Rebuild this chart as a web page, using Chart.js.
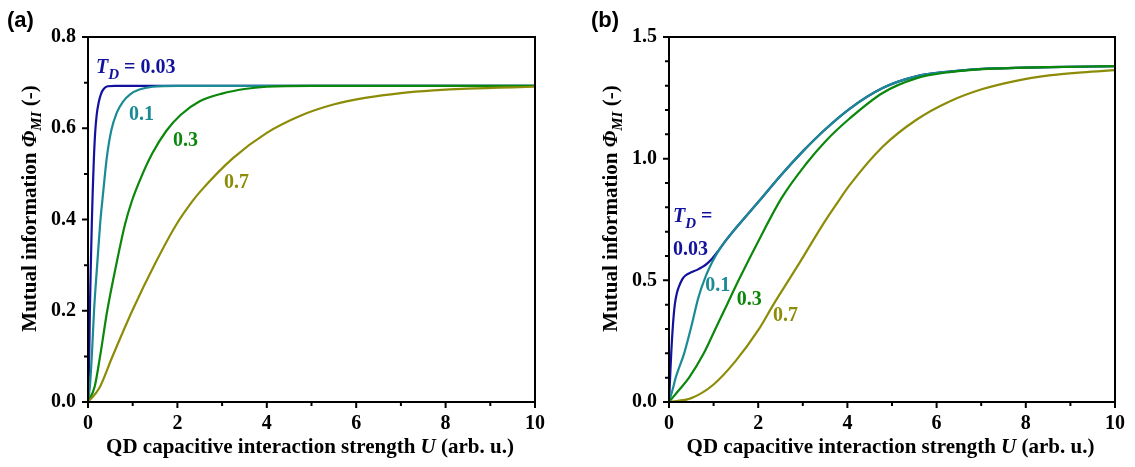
<!DOCTYPE html>
<html>
<head>
<meta charset="utf-8">
<script src="https://cdn.jsdelivr.net/npm/chart.js@4.4.0/dist/chart.umd.min.js"></script>
<style>
  html, body { margin: 0; padding: 0; background: #fff; }
  #wrap { position: relative; width: 1135px; height: 467px; }
  canvas { position: absolute; top: 0; }
  #chartA { left: 0; }
  #chartB { left: 560px; }
</style>
</head>
<body>
<div id="wrap">
  <canvas id="chartA" width="560" height="467"></canvas>
  <canvas id="chartB" width="575" height="467"></canvas>
</div>
<script>
// ---- values ----
const tempLabels = ['0.03', '0.1', '0.3', '0.7'];
const lineColors = ['#12129e', '#1a8a94', '#0b870b', '#8c8c08'];

const xTicks = [0, 2, 4, 6, 8, 10];
const xMinor = [1, 3, 5, 7, 9];
const yTicksA = [0, 0.2, 0.4, 0.6, 0.8];
const yMinorA = [0.1, 0.3, 0.5, 0.7];
const yTicksB = [0, 0.5, 1.0, 1.5];
const yMinorB = [0.1, 0.2, 0.3, 0.4, 0.6, 0.7, 0.8, 0.9, 1.1, 1.2, 1.3, 1.4];

// panel (a)
const uA003 = [0, 0.012, 0.027, 0.042, 0.063, 0.085, 0.105, 0.13, 0.16, 0.195, 0.24, 0.29, 0.35, 0.44, 0.6, 10];
const phiA003 = [0, 0.03, 0.1, 0.2, 0.3, 0.39, 0.46, 0.53, 0.59, 0.63, 0.657, 0.675, 0.686, 0.692, 0.693, 0.693];
const uA01 = [0, 0.04, 0.085, 0.135, 0.205, 0.275, 0.34, 0.42, 0.52, 0.64, 0.78, 0.95, 1.15, 1.45, 2.0, 10];
const phiA01 = [0, 0.032, 0.1, 0.2, 0.3, 0.395, 0.46, 0.535, 0.595, 0.633, 0.658, 0.675, 0.685, 0.691, 0.693, 0.693];
const uA03 = [0, 0.15, 0.27, 0.43, 0.63, 0.83, 0.98, 1.2, 1.44, 1.75, 2.07, 2.5, 3.0, 3.5, 4.0, 5.0, 10];
const phiA03 = [0, 0.034, 0.1, 0.2, 0.3, 0.39, 0.44, 0.495, 0.545, 0.594, 0.629, 0.659, 0.676, 0.686, 0.691, 0.693, 0.693];
const uA07 = [0, 0.25, 0.54, 0.99, 1.51, 1.97, 2.32, 2.5, 3.25, 4.0, 4.74, 5.49, 6.23, 7.0, 7.73, 8.5, 10];
const phiA07 = [0, 0.03, 0.098, 0.2, 0.305, 0.388, 0.438, 0.46, 0.535, 0.59, 0.627, 0.652, 0.667, 0.677, 0.683, 0.687, 0.691];

// panel (b)
const uB003 = [0, 0.02, 0.05, 0.09, 0.13, 0.18, 0.22, 0.3, 0.37, 0.5, 0.63, 0.75, 0.86, 0.97, 1.1, 1.25, 1.5, 2.04, 2.5, 3.0, 3.5, 4.05, 4.79, 5.54, 6.29, 7.03, 7.78, 8.52, 10];
const phiB003 = [0, 0.08, 0.2, 0.32, 0.4, 0.45, 0.473, 0.505, 0.52, 0.533, 0.543, 0.555, 0.57, 0.59, 0.62, 0.658, 0.715, 0.83, 0.93, 1.03, 1.12, 1.205, 1.29, 1.338, 1.358, 1.369, 1.373, 1.376, 1.38];
const uB01 = [0, 0.08, 0.15, 0.34, 0.5, 0.66, 0.82, 0.97, 1.1, 1.25, 1.5, 2.04, 2.5, 3.0, 3.5, 4.05, 4.79, 5.54, 6.29, 7.03, 7.78, 8.52, 10];
const phiB01 = [0, 0.05, 0.1, 0.2, 0.31, 0.43, 0.515, 0.575, 0.618, 0.658, 0.715, 0.83, 0.93, 1.03, 1.12, 1.205, 1.29, 1.338, 1.358, 1.369, 1.373, 1.376, 1.38];
const uB03 = [0, 0.22, 0.45, 0.78, 1.04, 1.3, 1.56, 2.0, 2.53, 3.08, 3.5, 4.05, 4.79, 5.54, 6.29, 7.03, 7.78, 8.52, 10];
const phiB03 = [0, 0.048, 0.1, 0.2, 0.3, 0.4, 0.5, 0.66, 0.84, 0.98, 1.07, 1.165, 1.27, 1.33, 1.356, 1.368, 1.373, 1.376, 1.38];
const uB07 = [0, 0.5, 1.0, 1.5, 2.0, 2.34, 2.87, 3.47, 3.75, 4.05, 4.79, 5.54, 6.29, 7.03, 7.78, 8.52, 9.27, 10];
const phiB07 = [0, 0.016, 0.072, 0.17, 0.295, 0.4, 0.555, 0.735, 0.812, 0.891, 1.049, 1.159, 1.235, 1.286, 1.32, 1.342, 1.355, 1.364];

const SERIF = '"Liberation Serif", "Times New Roman", serif';
const fBold = s => 'bold ' + s + 'px ' + SERIF;
const fBoldIt = s => 'italic bold ' + s + 'px ' + SERIF;

function pts(us, phis) {
  return us.map((u, i) => ({ x: u, y: phis[i] }));
}

// draws a row of text pieces with different fonts
function drawRich(ctx, runs, x, y, center) {
  let w = 0;
  runs.forEach(r => { ctx.font = r.font; r.w = ctx.measureText(r.text).width; w += r.w; });
  let cx = center ? x - w / 2 : x;
  runs.forEach(r => {
    ctx.font = r.font;
    ctx.fillText(r.text, cx, y + (r.dy || 0));
    cx += r.w;
  });
}

function decorPlugin(cfg) {
  return {
    id: 'decor',
    afterDatasetsDraw(chart) {
      const { ctx, chartArea: a, scales } = chart;
      const xs = scales.x, ys = scales.y;
      ctx.save();
      ctx.strokeStyle = '#000';
      ctx.lineWidth = 2;
      ctx.strokeRect(a.left, a.top, a.right - a.left, a.bottom - a.top);

      // major and minor tick marks, outward
      ctx.beginPath();
      xTicks.forEach(v => { const p = xs.getPixelForValue(v); ctx.moveTo(p, a.bottom); ctx.lineTo(p, a.bottom + 6); });
      xMinor.forEach(v => { const p = xs.getPixelForValue(v); ctx.moveTo(p, a.bottom); ctx.lineTo(p, a.bottom + 4); });
      cfg.yTicks.forEach(v => { const p = ys.getPixelForValue(v); ctx.moveTo(a.left, p); ctx.lineTo(a.left - 6, p); });
      cfg.yMinor.forEach(v => { const p = ys.getPixelForValue(v); ctx.moveTo(a.left, p); ctx.lineTo(a.left - 4, p); });
      ctx.stroke();

      ctx.fillStyle = '#000';
      ctx.textBaseline = 'alphabetic';
      ctx.textAlign = 'left';

      // x title
      drawRich(ctx, [
        { text: 'QD capacitive interaction strength ', font: fBold(21) },
        { text: 'U', font: fBoldIt(21) },
        { text: ' (arb. u.)', font: fBold(21) }
      ], (a.left + a.right) / 2 - 1.5, 453, true);

      // y title, rotated
      ctx.save();
      ctx.translate(a.left - 52, 208.5);
      ctx.rotate(-Math.PI / 2);
      drawRich(ctx, [
        { text: 'Mutual information ', font: fBold(21) },
        { text: '\u03A6', font: fBoldIt(21) },
        { text: 'MI', font: fBoldIt(15), dy: 5 },
        { text: ' (-)', font: fBold(21) }
      ], 0, 0, true);
      ctx.restore();

      // panel letter
      ctx.font = 'bold 22px "Liberation Sans", Arial, sans-serif';
      ctx.fillText(cfg.letter, cfg.letterX, 27);

      // curve labels
      cfg.notes.forEach(n => {
        ctx.fillStyle = lineColors[n.c];
        const px = xs.getPixelForValue(n.u), py = ys.getPixelForValue(n.v);
        if (n.td) {
          drawRich(ctx, [
            { text: 'T', font: fBoldIt(20) },
            { text: 'D', font: fBoldIt(15), dy: 6 },
            { text: n.text, font: fBold(20) }
          ], px, py, false);
        } else {
          ctx.font = fBold(20);
          ctx.fillText(n.text, px, py);
        }
      });
      ctx.restore();
    }
  };
}

function makePanel(id, series, cfg) {
  const datasets = series.map((s, i) => ({
    label: 'T_D = ' + tempLabels[i],
    data: s,
    showLine: true,
    borderColor: lineColors[i],
    backgroundColor: lineColors[i],
    borderWidth: 2.2,
    pointRadius: 0,
    cubicInterpolationMode: 'monotone',
    order: 4 - i
  }));
  const tickFont = { family: SERIF, weight: 'bold', size: 20 };
  return new Chart(document.getElementById(id), {
    type: 'scatter',
    data: { datasets },
    options: {
      responsive: false,
      animation: false,
      layout: { padding: { top: 37, right: cfg.padRight, left: 0, bottom: 0 } },
      plugins: { legend: { display: false }, tooltip: { enabled: false } },
      scales: {
        x: {
          type: 'linear', min: 0, max: 10,
          afterBuildTicks: s => { s.ticks = xTicks.map(v => ({ value: v })); },
          afterFit: s => { s.height = 65; },
          grid: { display: false, drawTicks: false },
          border: { display: false },
          ticks: { padding: 10, color: '#000', font: tickFont, autoSkip: false, maxRotation: 0, callback: v => String(v) }
        },
        y: {
          type: 'linear', min: 0, max: cfg.yMax,
          afterBuildTicks: s => { s.ticks = cfg.yTicks.map(v => ({ value: v })); },
          afterFit: s => { s.width = cfg.yWidth; },
          grid: { display: false, drawTicks: false },
          border: { display: false },
          ticks: { padding: 12, color: '#000', font: tickFont, autoSkip: false, callback: v => Number(v).toFixed(1) }
        }
      }
    },
    plugins: [decorPlugin(cfg)]
  });
}

makePanel('chartA', [pts(uA003, phiA003), pts(uA01, phiA01), pts(uA03, phiA03), pts(uA07, phiA07)], {
  yMax: 0.8, yTicks: yTicksA, yMinor: yMinorA, yWidth: 88, padRight: 25,
  letter: '(a)', letterX: 7,
  notes: [
    { c: 0, u: 0.18, v: 0.722, td: true, text: ' = 0.03' },
    { c: 1, u: 0.92, v: 0.619, text: '0.1' },
    { c: 2, u: 1.9, v: 0.562, text: '0.3' },
    { c: 3, u: 3.04, v: 0.468, text: '0.7' }
  ]
});

makePanel('chartB', [pts(uB003, phiB003), pts(uB01, phiB01), pts(uB03, phiB03), pts(uB07, phiB07)], {
  yMax: 1.5, yTicks: yTicksB, yMinor: yMinorB, yWidth: 109, padRight: 19,
  letter: '(b)', letterX: 31,
  notes: [
    { c: 0, u: 0.09, v: 0.74, td: true, text: ' =' },
    { c: 0, u: 0.09, v: 0.604, text: '0.03' },
    { c: 1, u: 0.81, v: 0.456, text: '0.1' },
    { c: 2, u: 1.52, v: 0.398, text: '0.3' },
    { c: 3, u: 2.33, v: 0.332, text: '0.7' }
  ]
});
</script>
</body>
</html>
